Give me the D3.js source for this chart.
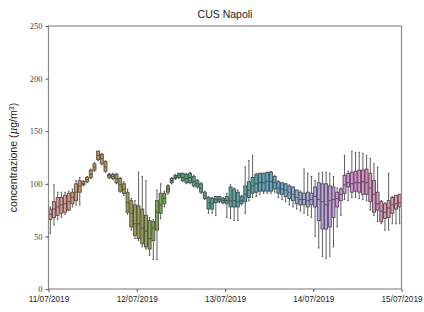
<!DOCTYPE html>
<html>
<head>
<meta charset="utf-8">
<script src="https://cdn.jsdelivr.net/npm/d3@7"></script>
<style>
  body { margin: 0; background: #fff; }
</style>
</head>
<body>
<svg></svg>
<script>
const width = 424;
const height = 312;
const margin = {left: 48.5, right: 22.5, top: 26, bottom: 23};

// hourly boxes, 11/07/2019 00h .. 14/07/2019 23h
const hours = d3.range(96);
const whiskerLow = [53,61,66,68,71,75,78,80,80,98,101,105,112,122,118,111,105,104,100,92,89,71,56,48,
  46,40,38,32,28,28,67,78,90,100,104,105,102,100,100,97,96,91,85,72,72,70,82,81,
  68,67,65,65,80,72,84,87,88,90,91,91,91,92,87,85,83,80,78,76,74,72,70,68,
  50,39,31,29,31,40,59,70,85,84,87,87,86,85,84,75,70,64,62,56,56,62,62,62];
const q1 = [66,68,70,72,73,75,81,84,92,99,102,106,113,123,119,112,106,105,101,93,91,73,59,51,
  48,43,40,38,46,56,72,81,92,101,105,106,103,101,101,98,97,92,86,76,76,82,83,82,
  81,78,78,78,81,83,87,91,92,93,93,93,93,95,91,90,88,86,84,81,80,80,78,80,
  78,65,57,57,59,68,78,84,91,97,92,93,92,90,90,83,73,75,64,67,68,72,76,78];
const median = [71,76,78,80,81,83,87,92,98,100,104,109,116,127,124,116,108,107,105,99,95,82,72,62,
  62,58,55,48,58,73,80,86,95,103,106,108,106,105,106,102,100,96,89,82,81,85,85,84,
  84,84,84,83,84,90,94,98,100,101,101,102,102,101,96,95,94,92,90,87,85,85,84,85,
  88,85,83,80,84,85,86,90,99,101,100,101,101,102,101,96,90,81,74,73,77,80,81,82];
const q3 = [76,83,87,87,89,91,92,100,103,102,106,113,119,131,128,121,109,109,109,105,100,92,84,80,
  79,76,70,65,64,84,91,91,98,105,108,110,110,109,110,107,103,100,92,87,86,88,88,86,
  88,97,95,92,88,98,102,106,109,110,110,111,111,107,102,101,100,98,97,94,92,91,92,91,
  97,101,100,100,98,97,92,95,108,110,111,112,113,113,114,110,103,92,83,81,84,87,89,90];
const whiskerHigh = [78,99,92,92,92,93,95,103,106,103,107,114,120,131,129,122,110,110,110,106,102,95,86,84,
  111,107,103,68,66,94,100,93,99,106,109,110,110,110,111,108,104,101,93,88,87,88,88,87,
  91,99,96,94,89,116,122,127,110,110,110,111,112,108,103,101,100,99,97,94,93,114,110,107,
  103,110,111,111,110,107,96,96,127,112,131,130,130,129,127,124,119,116,84,82,110,88,89,90];

const dayTicks = ["2019-07-11","2019-07-12","2019-07-13","2019-07-14","2019-07-15"].map(d => new Date(d + "T00:00:00"));
const yTicks = [0, 50, 100, 150, 200, 250];

// seaborn-like husl palette (l=.7), desaturated to .75
const M = [[3.240454162114103,-1.537138512797715,-0.49853140955601],
           [-0.969266,1.8760108,0.041556],
           [0.0556434,-0.2040259,1.0572252]];
function maxChroma(L, H) {
  const hr = H / 360 * 2 * Math.PI, sinH = Math.sin(hr), cosH = Math.cos(hr);
  const sub1 = Math.pow(L + 16, 3) / 1560896;
  const sub2 = sub1 > 0.008856 ? sub1 : L / 903.3;
  let result = Infinity;
  M.forEach(([m1, m2, m3]) => {
    const top = (0.99915 * m1 + 1.05122 * m2 + 1.14460 * m3) * sub2;
    const rb = 0.86330 * m3 - 0.17266 * m2;
    const lb = 0.12949 * m3 - 0.38848 * m1;
    const bottom = (rb * sinH + lb * cosH) * sub2;
    [0, 1].forEach(t => {
      const C = L * (top - 1.05122 * t) / (bottom + 0.17266 * sinH * t);
      if (C > 0 && C < result) result = C;
    });
  });
  return result;
}
function huslToRgb(H, S, L) {
  const C = maxChroma(L, H) / 100 * S;
  const hr = H / 360 * 2 * Math.PI;
  const U = Math.cos(hr) * C, V = Math.sin(hr) * C;
  const t = (L + 16) / 116;
  const vy = Math.pow(t, 3) > 0.008856 ? Math.pow(t, 3) : (116 * t - 16) / 903.3;
  const vu = U / (13 * L) + 0.19784, vv = V / (13 * L) + 0.46834;
  const Y = vy;
  const X = -(9 * Y * vu) / ((vu - 4) * vv - vu * vv);
  const Z = (9 * Y - 15 * vv * Y - vv * X) / (3 * vv);
  const rgb = M.map(r => {
    const c = r[0] * X + r[1] * Y + r[2] * Z;
    const v = c <= 0.0031308 ? 12.92 * c : 1.055 * Math.pow(c, 1 / 2.4) - 0.055;
    return Math.max(0, Math.min(1, v)) * 255;
  });
  return d3.rgb(rgb[0], rgb[1], rgb[2]);
}
const palette = hours.map(i => {
  const h = ((i / hours.length + 0.01) % 1) * 359;
  const c = d3.hsl(huslToRgb(h, 0.9 * 99, 0.7 * 99));
  c.s *= 0.75;
  return c.formatHex();
});

const svg = d3.select("svg")
  .attr("width", width)
  .attr("height", height)
  .style("font-family", "Liberation Sans, Arial, sans-serif");

const xScale = d3.scaleBand()
  .domain(hours)
  .range([margin.left, width - margin.right])
  .paddingInner(0.2)
  .paddingOuter(0.1);

const xTime = d3.scaleTime()
  .domain([dayTicks[0], dayTicks[dayTicks.length - 1]])
  .range([margin.left, width - margin.right]);

const yScale = d3.scaleLinear()
  .domain([0, 250])
  .range([height - margin.bottom, margin.top]);

const gray = "#4d4d4d";
const data = hours.map(i => ({
  i, lo: whiskerLow[i], q1: q1[i], med: median[i], q3: q3[i], hi: whiskerHigh[i]
}));

const boxes = svg.append("g")
  .selectAll("g")
  .data(data)
  .enter()
  .append("g");

const bw = xScale.bandwidth();
const cx = d => xScale(d.i) + bw / 2;

boxes.append("line")
  .attr("x1", cx).attr("x2", cx)
  .attr("y1", d => yScale(d.hi)).attr("y2", d => yScale(d.q3))
  .attr("stroke", gray).attr("stroke-width", 0.9);
boxes.append("line")
  .attr("x1", cx).attr("x2", cx)
  .attr("y1", d => yScale(d.q1)).attr("y2", d => yScale(d.lo))
  .attr("stroke", gray).attr("stroke-width", 0.9);
boxes.append("line")
  .attr("x1", d => cx(d) - bw / 4).attr("x2", d => cx(d) + bw / 4)
  .attr("y1", d => yScale(d.hi)).attr("y2", d => yScale(d.hi))
  .attr("stroke", gray).attr("stroke-width", 0.9);
boxes.append("line")
  .attr("x1", d => cx(d) - bw / 4).attr("x2", d => cx(d) + bw / 4)
  .attr("y1", d => yScale(d.lo)).attr("y2", d => yScale(d.lo))
  .attr("stroke", gray).attr("stroke-width", 0.9);
boxes.append("rect")
  .attr("x", d => xScale(d.i))
  .attr("width", bw)
  .attr("y", d => yScale(d.q3))
  .attr("height", d => Math.max(0.5, yScale(d.q1) - yScale(d.q3)))
  .attr("fill", d => palette[d.i])
  .attr("stroke", gray)
  .attr("stroke-width", 0.9);
boxes.append("line")
  .attr("x1", d => xScale(d.i)).attr("x2", d => xScale(d.i) + bw)
  .attr("y1", d => yScale(d.med)).attr("y2", d => yScale(d.med))
  .attr("stroke", gray).attr("stroke-width", 0.9);

// frame
svg.append("rect")
  .attr("x", margin.left)
  .attr("y", margin.top)
  .attr("width", width - margin.right - margin.left)
  .attr("height", height - margin.bottom - margin.top)
  .attr("fill", "none")
  .attr("stroke", "#8c8c8c")
  .attr("stroke-width", 1.2);

const xAxis = d3.axisBottom(xTime)
  .tickValues(dayTicks)
  .tickFormat(d3.timeFormat("%d/%m/%Y"))
  .tickSize(3)
  .tickSizeOuter(0);

const yAxis = d3.axisLeft(yScale)
  .tickValues(yTicks)
  .tickSize(3)
  .tickSizeOuter(0);

const gx = svg.append("g")
  .attr("transform", `translate(0,${height - margin.bottom})`)
  .call(xAxis);
gx.select(".domain").remove();
gx.selectAll("line").attr("stroke", "#555");
gx.selectAll("text")
  .attr("fill", "#222")
  .style("font-size", "8.2px")
  .attr("dy", "0.85em");

const gy = svg.append("g")
  .attr("transform", `translate(${margin.left},0)`)
  .call(yAxis);
gy.select(".domain").remove();
gy.selectAll("line").attr("stroke", "#555");
gy.selectAll("text")
  .attr("fill", "#444")
  .style("font-family", "Liberation Serif, Times New Roman, serif")
  .style("font-size", "8.5px");

svg.append("text")
  .attr("x", (margin.left + width - margin.right) / 2)
  .attr("y", 18)
  .attr("text-anchor", "middle")
  .style("font-size", "10.5px")
  .attr("fill", "#222")
  .text("CUS Napoli");

const ylab = svg.append("text")
  .attr("transform", `translate(17,${(margin.top + height - margin.bottom) / 2}) rotate(-90)`)
  .attr("text-anchor", "middle")
  .style("font-size", "10.5px")
  .attr("fill", "#222");
ylab.append("tspan").text("concentrazione (");
ylab.append("tspan").style("font-style", "italic").style("font-family", "DejaVu Serif, serif").text("μ");
ylab.append("tspan").text("g/m");
ylab.append("tspan").attr("baseline-shift", "super").style("font-size", "7px").text("3");
ylab.append("tspan").text(")");
</script>
</body>
</html>
